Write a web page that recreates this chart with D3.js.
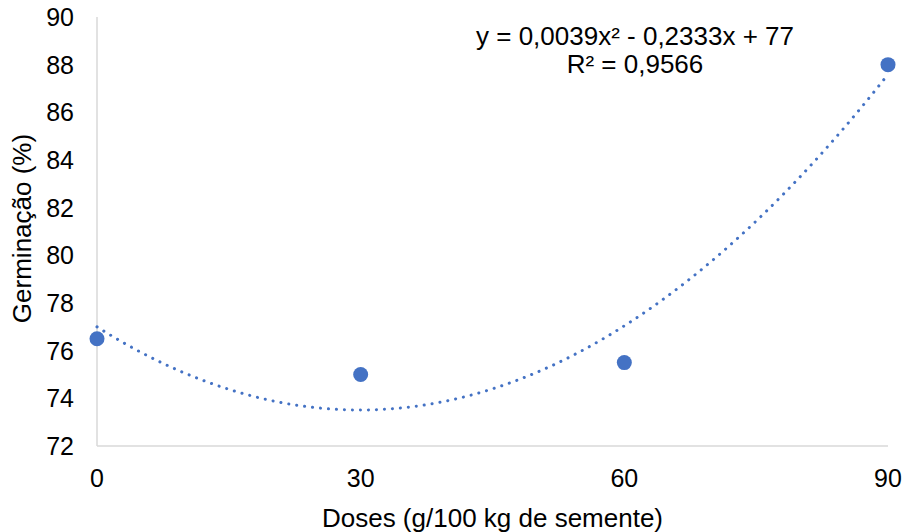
<!DOCTYPE html>
<html>
<head>
<meta charset="utf-8">
<script src="https://cdn.jsdelivr.net/npm/d3@7"></script>
<style>
  body { margin: 0; background: #fff; }
  text { font-family: "Liberation Sans", Arial, sans-serif; fill: #000; }
</style>
</head>
<body>
<div id="chart"></div>
<script>
// data
var doses = [0, 30, 60, 90]
var germinacao = [76.5, 75, 75.5, 88]
var yTicks = [72, 74, 76, 78, 80, 82, 84, 86, 88, 90]
var xTicks = [0, 30, 60, 90]
// polynomial trend shown on the chart: a*x^2 + b*x + c
var trendCoef = [0.0039, -0.2333, 77]
var eqLines = ["y = 0,0039x\u00B2 - 0,2333x + 77", "R\u00B2 = 0,9566"]

var width = 906
var height = 532
var margin = { top: 17, right: 18, bottom: 86, left: 97 }
var blue = "#4472C4"
var axisGray = "#d9d9d9"

const svg = d3.select("#chart")
    .append("svg")
    .attr("width", width)
    .attr("height", height)

const x = d3.scaleLinear()
    .domain([0, 90])
    .range([margin.left, width - margin.right])
const y = d3.scaleLinear()
    .domain([72, 90])
    .range([height - margin.bottom, margin.top])

// axis lines
svg.append("line")
    .attr("x1", x(0)).attr("x2", x(0))
    .attr("y1", y(90)).attr("y2", y(72))
    .attr("stroke", axisGray).attr("stroke-width", 1.5)
svg.append("line")
    .attr("x1", x(0)).attr("x2", x(90))
    .attr("y1", y(72)).attr("y2", y(72))
    .attr("stroke", axisGray).attr("stroke-width", 1.5)

// tick labels
svg.selectAll(".ytick").data(yTicks).enter()
    .append("text")
    .attr("x", x(0) - 23)
    .attr("y", d => y(d))
    .attr("dy", "0.36em")
    .attr("text-anchor", "end")
    .attr("font-size", "25px")
    .text(d => d)

svg.selectAll(".xtick").data(xTicks).enter()
    .append("text")
    .attr("x", d => x(d))
    .attr("y", y(72) + 41)
    .attr("text-anchor", "middle")
    .attr("font-size", "25px")
    .text(d => d)

// axis titles
svg.append("text")
    .attr("x", (x(0) + x(90)) / 2)
    .attr("y", 527)
    .attr("text-anchor", "middle")
    .attr("font-size", "26px")
    .text("Doses (g/100 kg de semente)")

svg.append("text")
    .attr("transform", "translate(31," + ((y(72) + y(90)) / 2 - 3) + ") rotate(-90)")
    .attr("text-anchor", "middle")
    .attr("font-size", "26px")
    .text("Germinação (%)")

// trend line
var trendX = d3.range(0, 90.5, 0.5)
var trendLine = d3.line()
    .x(d => x(d))
    .y(d => y(trendCoef[0] * d * d + trendCoef[1] * d + trendCoef[2]))
svg.append("path")
    .datum(trendX)
    .attr("d", trendLine)
    .attr("fill", "none")
    .attr("stroke", blue)
    .attr("stroke-width", 3)
    .attr("stroke-linecap", "round")
    .attr("stroke-dasharray", "0.1,7.9")

// points
svg.selectAll(".pt").data(doses).enter()
    .append("circle")
    .attr("cx", d => x(d))
    .attr("cy", (d, i) => y(germinacao[i]))
    .attr("r", 7.5)
    .attr("fill", blue)

// equation
svg.selectAll(".eq").data(eqLines).enter()
    .append("text")
    .attr("x", 635)
    .attr("y", (d, i) => 45 + i * 28)
    .attr("text-anchor", "middle")
    .attr("font-size", "26px")
    .text(d => d)
</script>
</body>
</html>
